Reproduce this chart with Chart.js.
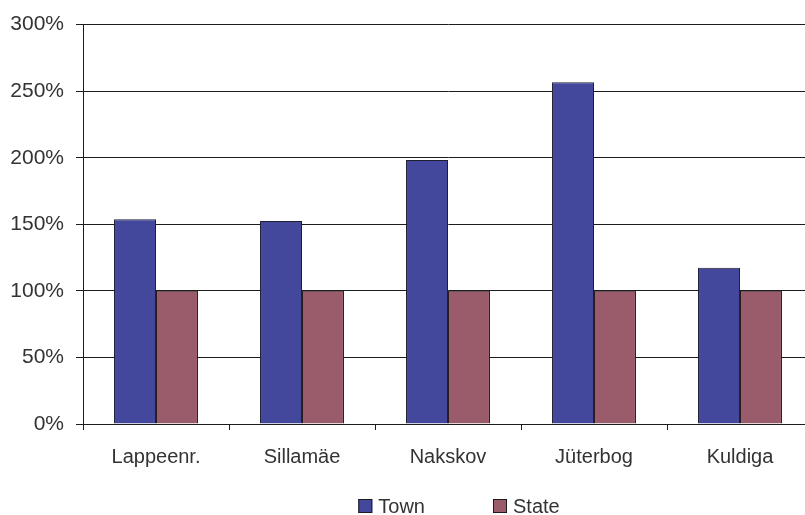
<!DOCTYPE html>
<html>
<head>
<meta charset="utf-8">
<script src="https://cdn.jsdelivr.net/npm/chart.js@4/dist/chart.umd.min.js"></script>
<style>
  html, body { margin: 0; padding: 0; background: #fff; overflow: hidden; }
  #wrap { position: relative; width: 813px; height: 515px; }
</style>
</head>
<body>
<div id="wrap"><canvas id="chart"></canvas></div>
<script>
/* Town vs State index by town, grouped bars */

const towns = ['Lappeenr.', 'Sillamäe', 'Nakskov', 'Jüterbog', 'Kuldiga'];
const townValues = [153.7, 152.5, 198.3, 256.7, 117.4];
const stateValues = [100, 100, 100, 100, 100];
const yTicks = [0, 50, 100, 150, 200, 250, 300];

const FONT = 'Liberation Sans';
const TEXT = '#333';
const LINE = '#1c1c1c';

// legend drawn under the axis: swatch + label per dataset
const bottomLegend = {
  id: 'bottomLegend',
  afterDraw(chart) {
    const ctx = chart.ctx;
    const box = 14, gap = 6, spacing = 68, cy = 506;
    ctx.save();
    ctx.font = '20px "' + FONT + '"';
    ctx.textBaseline = 'middle';
    const items = chart.data.datasets.map((d) => ({
      label: d.label, fill: d.backgroundColor,
      w: box + gap + ctx.measureText(d.label).width,
    }));
    const total = items.reduce((s, it) => s + it.w, 0) + spacing * (items.length - 1);
    let x = 459 - total / 2;
    items.forEach((it) => {
      ctx.fillStyle = it.fill;
      ctx.fillRect(x, cy - box / 2, box, box);
      ctx.strokeStyle = LINE;
      ctx.lineWidth = 1;
      ctx.strokeRect(x + 0.5, cy - box / 2 + 0.5, box - 1, box - 1);
      ctx.fillStyle = TEXT;
      ctx.fillText(it.label, x + box + gap, cy + 1);
      x += it.w + spacing;
    });
    ctx.restore();
  },
};

new Chart(document.getElementById('chart'), {
  type: 'bar',
  data: {
    labels: towns,
    datasets: [
      { label: 'Town', data: townValues, backgroundColor: '#43489c', borderColor: '#1f1f33', borderWidth: 1,
        categoryPercentage: 0.575, barPercentage: 1 },
      { label: 'State', data: stateValues, backgroundColor: '#9a5c6a', borderColor: '#2a1c20', borderWidth: 1,
        categoryPercentage: 0.575, barPercentage: 1 },
    ],
  },
  options: {
    responsive: true, maintainAspectRatio: false, animation: false,
    layout: { padding: { top: 22, right: 0, bottom: 0, left: 0 } },
    plugins: { legend: { display: false }, tooltip: { enabled: false } },
    scales: {
      x: {
        grid: { drawOnChartArea: false, drawTicks: true, tickLength: 6, color: LINE, offset: true },
        border: { color: LINE },
        ticks: { color: TEXT, font: { family: FONT, size: 20 }, padding: 15, maxRotation: 0 },
        afterFit: (s) => { s.height = 91; },
      },
      y: {
        min: 0, max: 300,
        afterBuildTicks: (s) => { s.ticks = yTicks.map((v) => ({ value: v })); },
        grid: { color: LINE, tickLength: 7 },
        border: { color: LINE },
        ticks: { color: TEXT, font: { family: FONT, size: 21 }, padding: 12, callback: (v) => v + '%' },
        afterFit: (s) => { s.width = 83; },
      },
    },
  },
  plugins: [bottomLegend],
});
</script>
</body>
</html>
